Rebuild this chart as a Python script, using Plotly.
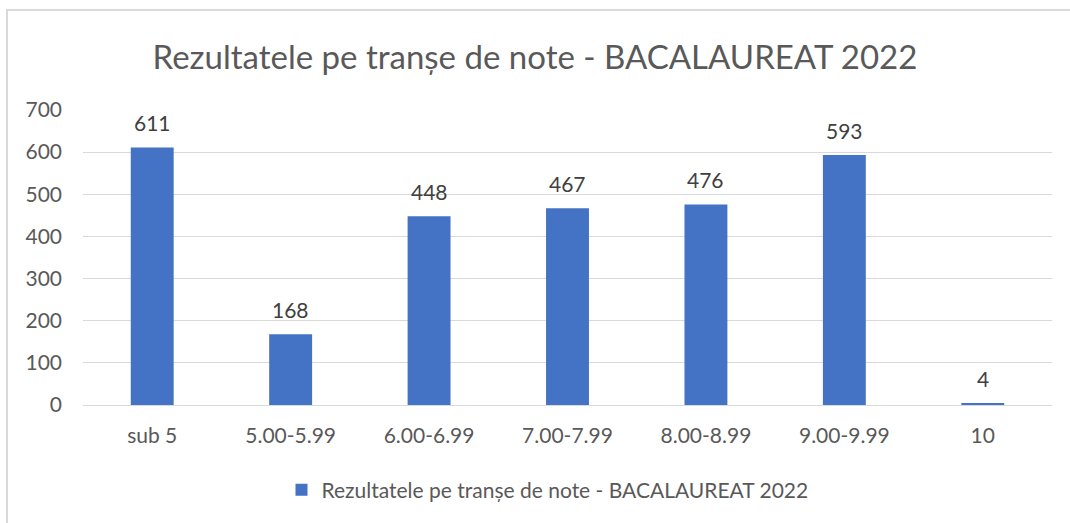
import plotly.graph_objects as go

categories = ["sub 5", "5.00-5.99", "6.00-6.99", "7.00-7.99", "8.00-8.99", "9.00-9.99", "10"]
values = [611, 168, 448, 467, 476, 593, 4]
series_name = "Rezultatele pe tranșe de note - BACALAUREAT 2022"
title_text = "Rezultatele pe tranșe de note - BACALAUREAT 2022"
y_ticks = [0, 100, 200, 300, 400, 500, 600, 700]

FONT = "Lato, 'Open Sans', sans-serif"
TXT = "#595959"

W, H = 1070, 523
L, R, T, B = 83, 18, 110, 118
PW, PH = W - L - R, H - T - B

fig = go.Figure()
fig.add_trace(go.Bar(
    x=categories, y=values, name=series_name,
    marker=dict(color="#4472C4", line=dict(width=0)),
    width=0.31,
    showlegend=True,
))

# data labels, placed at each category index through the axis scales
for i, v in enumerate(values):
    fig.add_annotation(x=i, y=v, xref="x", yref="y", text=str(v), showarrow=False,
                       yshift=25, yanchor="middle",
                       font=dict(family=FONT, size=21, color="#404040"))

fig.update_layout(
    width=W, height=H,
    paper_bgcolor="white", plot_bgcolor="white",
    margin=dict(l=L, r=R, t=T, b=B),
    title=dict(text=title_text, x=0.5, xanchor="center", y=1 - 57/H, yanchor="middle",
               font=dict(family=FONT, size=33, color=TXT)),
    font=dict(family=FONT, color=TXT),
    showlegend=True,
    legend=dict(orientation="h", x=0.5 - 20/PW, xanchor="center", y=-(490-405)/PH, yanchor="middle",
                font=dict(family=FONT, size=21, color=TXT), itemwidth=30),
    xaxis=dict(type="category", categoryorder="array", categoryarray=categories,
               range=[-0.5, len(categories) - 0.5], tickangle=0,
               showgrid=False, showline=False, zeroline=False, ticks="",
               tickfont=dict(family=FONT, size=21, color=TXT), ticklabelstandoff=16),
    yaxis=dict(range=[0, 700], tickvals=y_ticks, showgrid=True, gridcolor="#D9D9D9", gridwidth=1,
               zeroline=True, zerolinecolor="#D9D9D9", zerolinewidth=1, showline=False, ticks="",
               tickfont=dict(family=FONT, size=21, color=TXT), ticklabelstandoff=20),
)

# chart outer border
fig.add_shape(type="rect", xref="paper", yref="paper",
              x0=(7-L)/PW, x1=(1085-L)/PW, y0=-(540-405)/PH, y1=1+(T-10)/PH,
              line=dict(color="#D9D9D9", width=2), fillcolor="rgba(0,0,0,0)", layer="below")

fig.write_html("out.html", config={"displayModeBar": False},
               post_script="document.body.style.margin='0';")
